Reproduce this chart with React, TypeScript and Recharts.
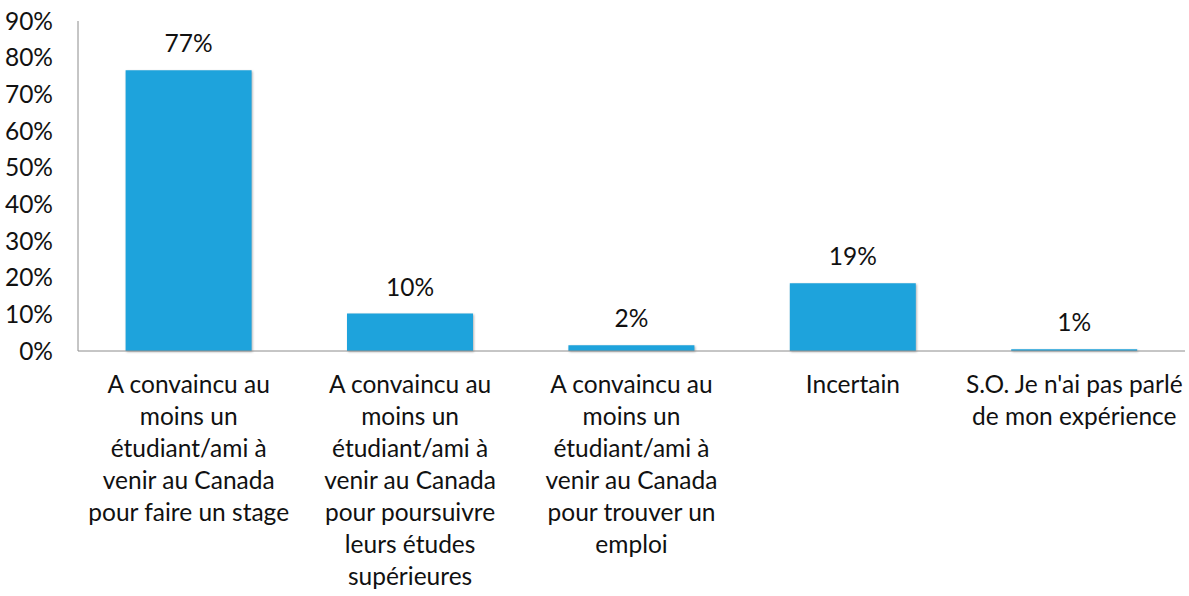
import React from "react";
import { BarChart, Bar, XAxis, YAxis, LabelList } from "recharts";

const categories: string[] = [
  "A convaincu au\nmoins un\nétudiant/ami à\nvenir au Canada\npour faire un stage",
  "A convaincu au\nmoins un\nétudiant/ami à\nvenir au Canada\npour poursuivre\nleurs études\nsupérieures",
  "A convaincu au\nmoins un\nétudiant/ami à\nvenir au Canada\npour trouver un\nemploi",
  "Incertain",
  "S.O. Je n'ai pas parlé\nde mon expérience",
];
const values: number[] = [76.6, 10.2, 1.6, 18.5, 0.5];
const yTicks: number[] = [0, 10, 20, 30, 40, 50, 60, 70, 80, 90];

const data = categories.map((c, i) => ({ name: c, value: values[i] }));

const FONT = "Lato, 'Open Sans', sans-serif";
const FS = 24.5;

const XTick = (props: any) => {
  const { x, y, payload } = props;
  const lines = String(payload.value).split("\n");
  return (
    <text x={x} y={y} textAnchor="middle" fontFamily={FONT} fontSize={FS} fill="#111">
      {lines.map((l, i) => (
        <tspan key={i} x={x} dy={i === 0 ? 42 : 32}>
          {l}
        </tspan>
      ))}
    </text>
  );
};

export default function App() {
  return (
    <div style={{ position: "absolute", left: 0, top: 0, background: "#fff" }}>
      <BarChart
        width={1189}
        height={596}
        data={data}
        margin={{ top: 21, right: 4, left: 0, bottom: 0 }}
        barCategoryGap="21.5%"
      >
        <XAxis
          dataKey="name"
          interval={0}
          tickLine={false}
          tickSize={0}
          tickMargin={0}
          height={245}
          stroke="#8c8c8c"
          tick={<XTick />}
        />
        <YAxis
          width={78}
          domain={[0, 90]}
          ticks={yTicks}
          interval={0}
          tickLine={false}
          tickSize={0}
          tickMargin={25}
          stroke="#8c8c8c"
          tickFormatter={(v: number) => `${v}%`}
          tick={{ fill: "#111", fontFamily: FONT, fontSize: FS }}
        />
        <Bar
          dataKey="value"
          fill="#1EA3DC"
          isAnimationActive={false}
          style={{ filter: "drop-shadow(1px 1px 1px rgba(0,0,0,0.3))" }}
        >
          <LabelList
            dataKey="value"
            position="top"
            offset={18}
            formatter={(v: any) => `${Math.round(Number(v))}%`}
            style={{ fill: "#111", fontFamily: FONT, fontSize: FS }}
          />
        </Bar>
      </BarChart>
    </div>
  );
}
